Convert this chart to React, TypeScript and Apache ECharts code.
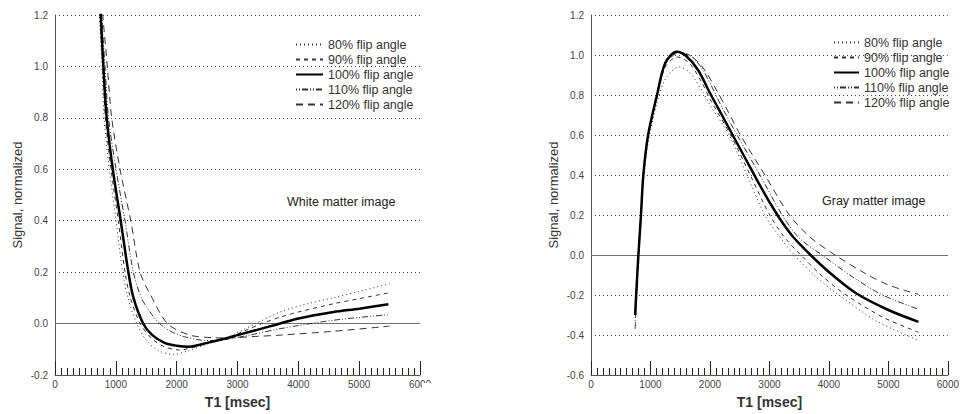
import React, { useEffect, useRef } from "react";
import * as echarts from "echarts";

const FONT = '"Liberation Sans", Arial, Helvetica, sans-serif';

const flipLabels = ["80% flip angle", "90% flip angle", "100% flip angle", "110% flip angle", "120% flip angle"];
const xTicks = [0, 1000, 2000, 3000, 4000, 5000, 6000];

// White matter image: [T1 msec, normalized signal]
const wm80 = [[715, 1.3], [730, 1.2], [773, 1.0], [806, 0.8], [893, 0.6], [1003, 0.4], [1113, 0.2], [1200, 0.1], [1343, 0.0], [1500, -0.065], [1700, -0.105], [1950, -0.12], [2200, -0.105], [2500, -0.08], [2800, -0.058], [3000, -0.035], [3300, 0.0], [3700, 0.045], [4200, 0.08], [4577, 0.1], [5000, 0.125], [5500, 0.155]];
const wm90 = [[722, 1.3], [740, 1.2], [785, 1.0], [828, 0.8], [921, 0.6], [1041, 0.4], [1151, 0.2], [1240, 0.1], [1400, 0.0], [1600, -0.06], [1800, -0.09], [2050, -0.103], [2300, -0.09], [2550, -0.072], [2800, -0.058], [3100, -0.03], [3400, 0.0], [3700, 0.025], [4000, 0.045], [4577, 0.077], [5000, 0.097], [5500, 0.12]];
const wm100 = [[728, 1.3], [752, 1.2], [795, 1.0], [850, 0.8], [950, 0.6], [1080, 0.4], [1206, 0.2], [1290, 0.1], [1450, 0.0], [1600, -0.045], [1800, -0.075], [2000, -0.086], [2200, -0.09], [2500, -0.075], [2800, -0.058], [3000, -0.045], [3500, -0.013], [3700, 0.0], [4000, 0.02], [4577, 0.045], [5000, 0.058], [5480, 0.075]];
const wm110 = [[738, 1.3], [765, 1.2], [822, 1.0], [880, 0.8], [1003, 0.6], [1151, 0.4], [1288, 0.2], [1420, 0.1], [1562, 0.045], [1720, 0.0], [1900, -0.03], [2110, -0.05], [2385, -0.064], [2600, -0.066], [2800, -0.062], [3200, -0.045], [3700, -0.02], [4577, 0.013], [5500, 0.035]];
const wm120 = [[750, 1.3], [785, 1.2], [860, 1.0], [932, 0.8], [1069, 0.6], [1245, 0.4], [1398, 0.2], [1562, 0.115], [1850, 0.0], [2220, -0.045], [2600, -0.055], [2800, -0.056], [3300, -0.05], [3700, -0.045], [4577, -0.03], [5500, -0.01]];

// Gray matter image
const gm80 = [[742, -0.27], [797, 0.0], [840, 0.19], [880, 0.37], [960, 0.56], [1110, 0.76], [1250, 0.88], [1480, 0.94], [1650, 0.915], [1850, 0.83], [2000, 0.75], [2319, 0.6], [2621, 0.4], [2923, 0.2], [3150, 0.1], [3418, 0.0], [3750, -0.1], [4120, -0.19], [4800, -0.33], [5505, -0.427]];
const gm90 = [[742, -0.29], [797, 0.0], [840, 0.2], [880, 0.39], [960, 0.59], [1110, 0.79], [1250, 0.94], [1450, 0.99], [1650, 0.96], [1850, 0.87], [2000, 0.78], [2346, 0.6], [2676, 0.4], [3005, 0.2], [3250, 0.09], [3527, 0.0], [3850, -0.095], [4240, -0.19], [4900, -0.31], [5505, -0.386]];
const gm100 = [[742, -0.3], [770, -0.14], [797, 0.0], [840, 0.2], [880, 0.4], [960, 0.6], [1110, 0.8], [1248, 0.96], [1440, 1.016], [1600, 0.995], [1800, 0.925], [2000, 0.81], [2200, 0.7], [2400, 0.59], [2600, 0.48], [2800, 0.37], [3000, 0.265], [3200, 0.17], [3400, 0.09], [3692, 0.0], [4000, -0.085], [4450, -0.19], [5000, -0.275], [5505, -0.334]];
const gm110 = [[742, -0.33], [797, 0.0], [840, 0.2], [880, 0.4], [960, 0.6], [1110, 0.8], [1250, 0.96], [1460, 1.015], [1650, 1.0], [1850, 0.94], [2000, 0.86], [2200, 0.74], [2456, 0.6], [2840, 0.4], [3214, 0.2], [3500, 0.085], [3885, 0.0], [4400, -0.11], [4900, -0.2], [5505, -0.271]];
const gm120 = [[742, -0.37], [797, 0.0], [840, 0.2], [880, 0.4], [960, 0.6], [1110, 0.8], [1250, 0.955], [1480, 1.01], [1700, 0.99], [1900, 0.93], [2100, 0.83], [2300, 0.72], [2511, 0.6], [2923, 0.4], [3335, 0.2], [3700, 0.085], [4104, 0.0], [4600, -0.09], [5000, -0.15], [5505, -0.197]];

const styles: any[] = [
  { color: "#333", width: 1, type: [1, 3] },
  { color: "#333", width: 1, type: [4, 4] },
  { color: "#000", width: 2.5, type: "solid" },
  { color: "#333", width: 1, type: [1, 2, 1, 2, 6, 2] },
  { color: "#333", width: 1, type: [7, 5] },
];

function mkSeries(name: string, data: number[][], idx: number, style: any, withZero: boolean) {
  const s: any = {
    type: "line",
    name,
    data,
    xAxisIndex: idx,
    yAxisIndex: idx,
    symbol: "none",
    showSymbol: false,
    smooth: 0.3,
    lineStyle: style,
    itemStyle: { color: style.color },
    z: style.width > 2 ? 5 : 3,
  };
  if (withZero) {
    s.markLine = {
      silent: true,
      symbol: "none",
      label: { show: false },
      lineStyle: { color: "#707070", width: 1, type: "solid" },
      data: [{ yAxis: 0 }],
      z: 1,
    };
  }
  return s;
}

function xAxis(idx: number) {
  return {
    gridIndex: idx,
    type: "value",
    position: "bottom",
    min: xTicks[0],
    max: xTicks[xTicks.length - 1],
    interval: 1000,
    axisLine: { show: true, onZero: false, lineStyle: { color: "#555", width: 1 } },
    axisTick: { show: true, inside: true, length: 14, lineStyle: { color: "#222", width: 1 } },
    minorTick: { show: true, splitNumber: 10, length: 7, lineStyle: { color: "#222", width: 1 } },
    splitLine: { show: false },
    axisLabel: {
      fontSize: 10,
      color: "#444",
      margin: 4,
      fontFamily: FONT,
      formatter: (v: number) => String(v),
    },
    name: "T1 [msec]",
    nameLocation: "middle",
    nameGap: 20,
    nameTextStyle: { fontSize: 14, fontWeight: "bold", color: "#333", fontFamily: FONT },
  };
}

function yAxis(idx: number, min: number) {
  return {
    gridIndex: idx,
    type: "value",
    position: "left",
    min,
    max: 1.2,
    interval: 0.2,
    axisLine: { show: true, onZero: false, lineStyle: { color: "#555", width: 1 } },
    axisTick: { show: false },
    splitLine: { show: true, lineStyle: { color: "#444", type: [1, 3], width: 1 } },
    axisLabel: {
      fontSize: 10,
      color: "#444",
      margin: 7,
      fontFamily: FONT,
      formatter: (v: number) => v.toFixed(1),
    },
    name: "Signal, normalized",
    nameLocation: "middle",
    nameGap: 31,
    nameRotate: 90,
    nameTextStyle: { fontSize: 13, color: "#333", fontFamily: FONT },
  };
}

function legend(left: number, top: number, w: number) {
  return {
    data: flipLabels,
    orient: "vertical",
    left,
    top,
    padding: 0,
    itemWidth: w,
    itemHeight: 14,
    itemGap: 2,
    selectedMode: false,
    itemStyle: { opacity: 0 },
    textStyle: { fontSize: 12.5, color: "#333", fontFamily: FONT },
  };
}

export default function App() {
  const ref = useRef<HTMLDivElement>(null);
  useEffect(() => {
    if (!ref.current) return;
    const chart = echarts.init(ref.current, null, { renderer: "svg" });
    const wm = [wm80, wm90, wm100, wm110, wm120];
    const gm = [gm80, gm90, gm100, gm110, gm120];
    const series: any[] = [];
    wm.forEach((d, i) => series.push(mkSeries(flipLabels[i], d, 0, styles[i], i === 2)));
    gm.forEach((d, i) => series.push(mkSeries(flipLabels[i], d, 1, styles[i], i === 2)));
    chart.setOption({
      animation: false,
      backgroundColor: "#fff",
      textStyle: { fontFamily: FONT },
      grid: [
        { left: 55, top: 15, width: 365, height: 365 },
        { left: 591, top: 15, width: 364, height: 365 },
      ],
      xAxis: [xAxis(0), xAxis(1)],
      yAxis: [yAxis(0, -0.2), yAxis(1, -0.6)],
      legend: [legend(295, 38, 27), legend(833, 36, 25)],
      graphic: [
        {
          type: "text",
          left: 287,
          top: 195,
          style: { text: "White matter image", fontSize: 12.5, fill: "#222", fontFamily: FONT },
        },
        {
          type: "text",
          left: 822,
          top: 194,
          style: { text: "Gray matter image", fontSize: 12.5, fill: "#222", fontFamily: FONT },
        },
        {
          type: "rect",
          z: 100,
          shape: { x: 422, y: 383, width: 50, height: 14 },
          style: { fill: "#fff" },
        },
      ],
      series,
    });
    return () => chart.dispose();
  }, []);
  return (
    <div
      ref={ref}
      style={{ position: "fixed", left: 0, top: 0, width: 962, height: 414, background: "#fff" }}
    />
  );
}
